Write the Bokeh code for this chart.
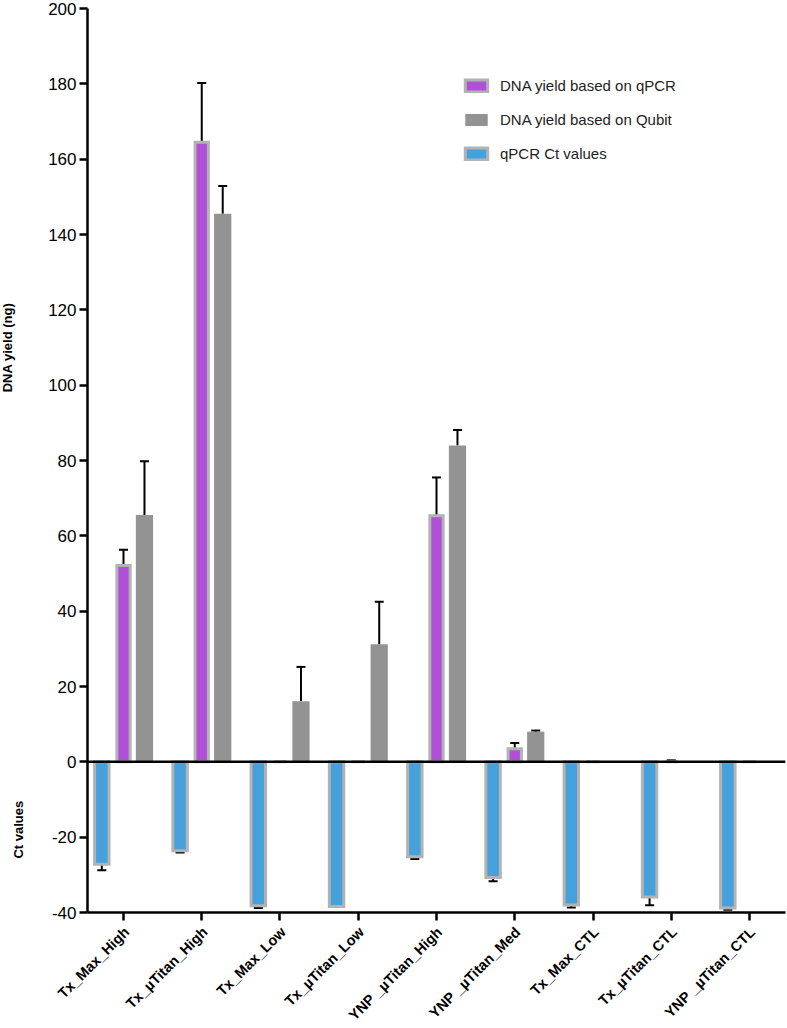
import math
from bokeh.plotting import figure
from bokeh.layouts import row, column
from bokeh.models import (ColumnDataSource, Range1d, FixedTicker, Whisker, TeeHead,
                          Span, Legend, LegendItem)
from bokeh.core.properties import value
from bokeh.transform import dodge
from bokeh.embed import file_html
from bokeh.resources import INLINE

categories = ["Tx_Max_High", "Tx_\u00b5Titan_High", "Tx_Max_Low", "Tx_\u00b5Titan_Low",
              "YNP _\u00b5Titan_High", "YNP _\u00b5Titan_Med", "Tx_Max_CTL",
              "Tx_\u00b5Titan_CTL", "YNP _\u00b5Titan_CTL"]
qpcr_yield = [52.1, 164.5, 0, 0, 65.3, 3.5, 0, 0, 0]
qpcr_err = [4.2, 15.7, 0, 0, 10.2, 1.5, 0, 0.4, 0]
qubit_yield = [65.5, 145.5, 16.1, 31.2, 84.0, 8.0, 0, 0, 0]
qubit_err = [14.3, 7.4, 9.1, 11.3, 4.1, 0.3, 0, 0, 0]
ct_values = [-27.2, -23.6, -38.2, -38.4, -25.2, -30.7, -38.0, -35.9, -38.8]
ct_err = [1.6, 0.5, 0.6, 0, 0.6, 1.0, 0.7, 2.2, 0.5]
y_ticks = list(range(-40, 201, 20))
axis_titles = ["DNA yield (ng)", "Ct values"]
axis_title_y = [110, -18]

FONT = "Liberation Sans"
PURPLE = "#b04fd8"
GREY = "#939393"
BLUE = "#45a1dc"
BORDER = "#b3b3b3"

W = 787
TOP_H = 922          # height of the plotting row
BOT_H = 1028 - TOP_H  # height of the category-label strip
LEFT_W = 40          # strip with the y titles
FRAME_L = 87         # page x of the y axis
RIGHT_B = 2
X0, X1 = -0.46, 8.46

yr = Range1d(-40, 200)
xr = Range1d(X0, X1)

# narrow panel holding the two y-axis titles
p0 = figure(width=LEFT_W, height=TOP_H, x_range=Range1d(0, LEFT_W), y_range=yr,
            output_backend="svg", toolbar_location=None,
            x_axis_location=None, y_axis_location=None,
            min_border_left=0, min_border_right=0, min_border_top=8, min_border_bottom=10)
p0.grid.visible = False
p0.outline_line_color = None
tsrc = ColumnDataSource(dict(x=[7, 18], y=axis_title_y, t=axis_titles))
p0.text(x="x", y="y", text="t", source=tsrc, angle=math.pi / 2,
        text_align="center", text_baseline="middle", text_font=value(FONT),
        text_font_size="13px", text_font_style="bold", text_color="black")

idx = list(range(len(categories)))
src = ColumnDataSource(dict(x=idx, qpcr=qpcr_yield, qubit=qubit_yield, ct=ct_values))

p = figure(width=W - LEFT_W, height=TOP_H, x_range=xr, y_range=yr,
           output_backend="svg", toolbar_location=None,
           min_border_left=FRAME_L - LEFT_W, min_border_right=RIGHT_B, min_border_top=8,
           min_border_bottom=10)
p.outline_line_color = None
p.xgrid.visible = False
p.ygrid.visible = False

OFF_B, OFF_P, OFF_G = -0.277, 0.0, 0.268

r_ct = p.vbar(x=dodge("x", OFF_B), top="ct", bottom=0, width=0.185, source=src,
              fill_color=BLUE, line_color=BORDER, line_width=3, line_join="miter")
r_qp = p.vbar(x=dodge("x", OFF_P), top="qpcr", bottom=0, width=0.17, source=src,
              fill_color=PURPLE, line_color=BORDER, line_width=3, line_join="miter")
r_qb = p.vbar(x=dodge("x", OFF_G), top="qubit", bottom=0, width=0.22, source=src,
              fill_color=GREY, line_color=None)

def whisk(vals, errs, off, down=False):
    xs, lo, hi = [], [], []
    for i, (v, e) in enumerate(zip(vals, errs)):
        if e > 0:
            xs.append(i + off)
            if down:
                lo.append(v - e); hi.append(v)
            else:
                lo.append(v); hi.append(v + e)
    s = ColumnDataSource(dict(base=xs, lower=lo, upper=hi))
    head = TeeHead(size=9, line_width=2, line_color="black")
    w = Whisker(source=s, base="base", lower="lower", upper="upper",
                line_color="black", line_width=2,
                lower_head=head if down else None, upper_head=None if down else head)
    p.add_layout(w)

whisk(qpcr_yield, qpcr_err, OFF_P)
whisk(qubit_yield, qubit_err, OFF_G)
whisk(ct_values, ct_err, OFF_B, down=True)

p.add_layout(Span(location=0, dimension="width", line_color="black", line_width=2.5))

# axes
p.yaxis.ticker = FixedTicker(ticks=y_ticks)
p.yaxis.major_label_overrides = {t: str(t) for t in y_ticks}
p.yaxis.minor_tick_line_color = None
p.yaxis.major_tick_out = 8
p.yaxis.major_tick_in = 0
p.yaxis.major_tick_line_width = 2.5
p.yaxis.axis_line_width = 2.5
p.yaxis.major_label_text_font = FONT
p.yaxis.major_label_text_font_size = "17px"
p.yaxis.major_label_text_color = "black"
p.yaxis.major_label_standoff = 3

p.xaxis.ticker = FixedTicker(ticks=idx)
p.xaxis.major_label_overrides = {i: "" for i in idx}
p.xaxis.major_label_text_font_size = "0px"
p.xaxis.major_label_standoff = 0
p.xaxis.minor_tick_line_color = None
p.xaxis.major_tick_out = 8
p.xaxis.major_tick_in = 0
p.xaxis.major_tick_line_width = 2.5
p.xaxis.axis_line_width = 2.5

legend = Legend(items=[
    LegendItem(label="DNA yield based on qPCR", renderers=[r_qp]),
    LegendItem(label="DNA yield based on Qubit", renderers=[r_qb]),
    LegendItem(label="qPCR Ct values", renderers=[r_ct]),
], location=(375, 750), glyph_width=28, glyph_height=15, label_standoff=10, spacing=17,
    padding=10, margin=0, border_line_color=None, background_fill_alpha=0,
    label_text_font=FONT, label_text_font_size="15px", label_text_color="#222222")
p.add_layout(legend)

# strip with the rotated category labels, sharing the category scale of the plot
k = (W - FRAME_L - RIGHT_B) / (X1 - X0)
pb = figure(width=W, height=BOT_H,
            x_range=Range1d(X0 - FRAME_L / k, X1 + RIGHT_B / k), y_range=Range1d(0, BOT_H),
            output_backend="svg", toolbar_location=None,
            x_axis_location=None, y_axis_location=None,
            min_border_left=0, min_border_right=0, min_border_top=0, min_border_bottom=0)
pb.grid.visible = False
pb.outline_line_color = None
lsrc = ColumnDataSource(dict(x=[i + 0.04 for i in idx], y=[BOT_H - 7] * len(idx), t=categories))
pb.text(x="x", y="y", text="t", source=lsrc, angle=math.pi / 4,
        text_align="right", text_baseline="middle", text_font=value(FONT),
        text_font_size="14.5px", text_font_style="bold", text_color="black")

layout = column(row(p0, p, spacing=0), pb, spacing=0)
open("out.html", "w").write(file_html(layout, INLINE))
